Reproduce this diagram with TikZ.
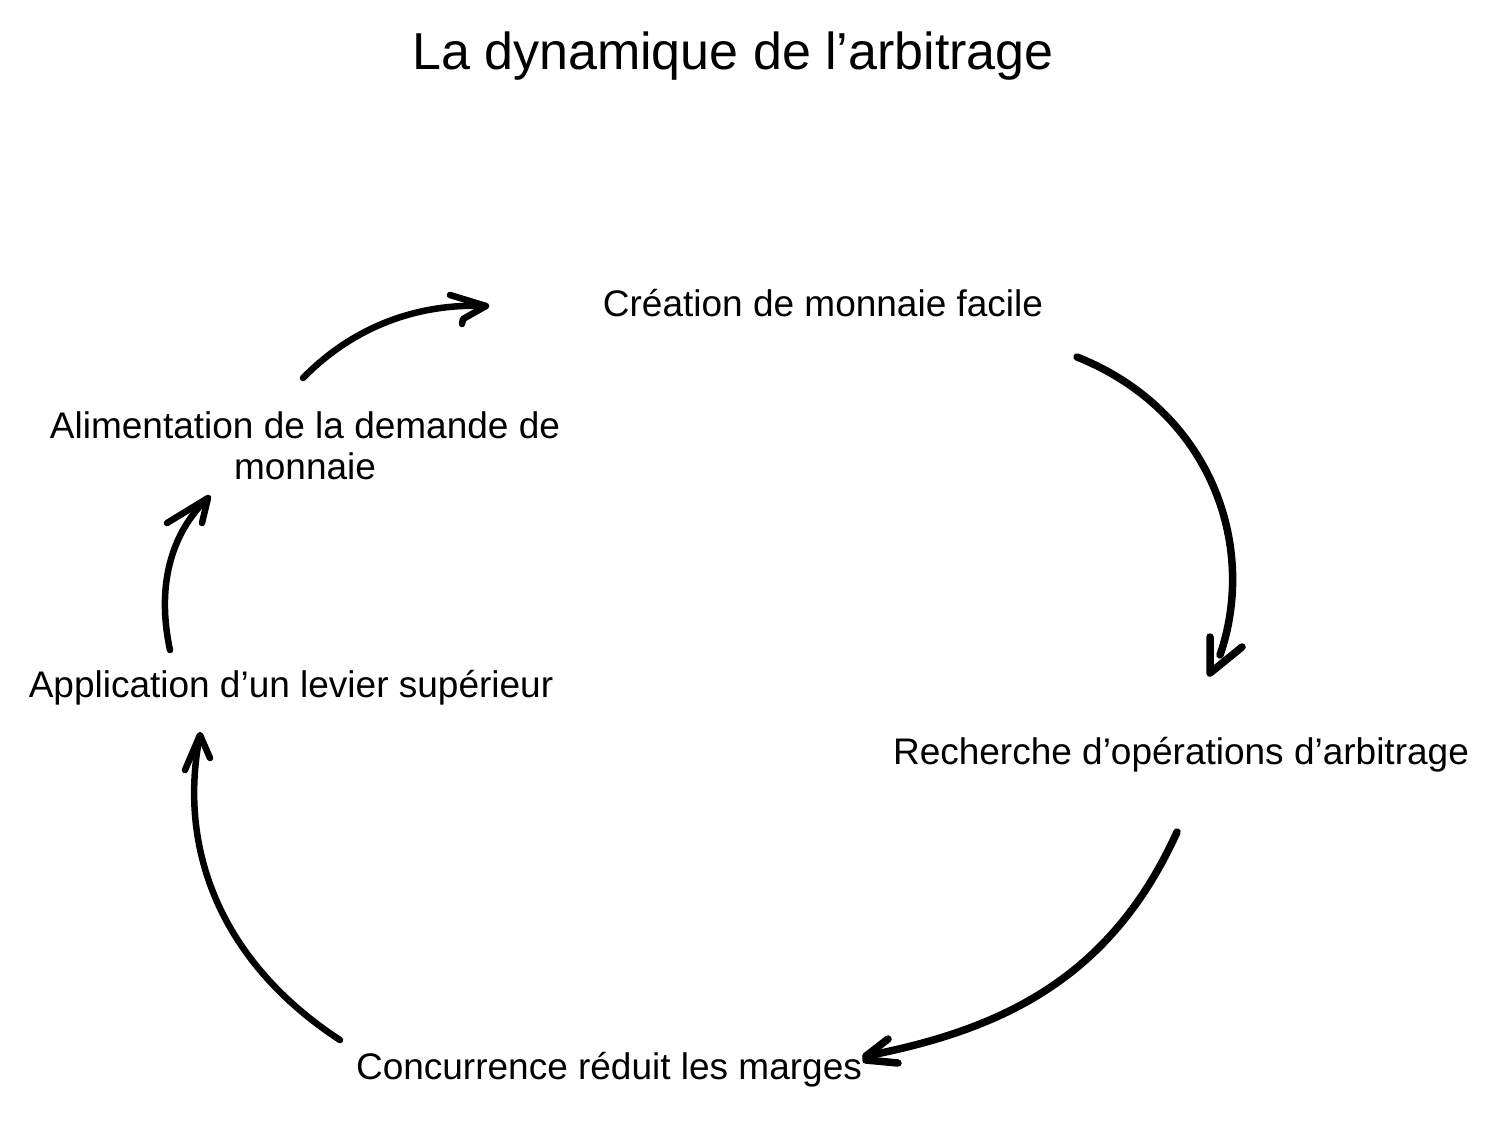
\documentclass[tikz,border=0pt]{standalone}
\usepackage{fontspec}
\setmainfont{Liberation Sans}
\begin{document}
\begin{tikzpicture}[x=1pt,y=-1pt,
  lbl/.style={inner sep=0pt, font=\fontsize{37}{41}\selectfont, align=center},
  ttl/.style={inner sep=0pt, font=\fontsize{52}{60}\selectfont},
  pen/.style={line width=6.5pt, line cap=round, line join=round, black},
  thickpen/.style={pen, line width=7.5pt}]
\useasboundingbox[fill=white] (0,0) rectangle (1487,1128);
\node[ttl] (title) at (733,56) {La dynamique de l’arbitrage};
\node[lbl] (creation) at (823,303) {Création de monnaie facile};
\node[lbl] (recherche) at (1181,755) {Recherche d’opérations d’arbitrage};
\node[lbl] (concurrence) at (609,1070) {Concurrence réduit les marges};
\node[lbl] (application) at (291,688) {Application d’un levier supérieur};
\node[lbl] (alimentation) at (305,446) {Alimentation de la demande de\\monnaie};
% arrow ends
\coordinate (a1s) at (303,378); \coordinate (a1e) at (486,306);
\coordinate (a2s) at (1077,357); \coordinate (a2e) at (1220,655);
\coordinate (a3s) at (1177,832); \coordinate (a3e) at (866,1056);
\coordinate (a4s) at (340,1040); \coordinate (a4e) at (199,740);
\coordinate (a5s) at (170,650); \coordinate (a5e) at (206,500);
% arrow 1
\draw[pen] (a1s) .. controls (355,325) and (420,303) .. (a1e);
\draw[pen] (450,295) -- (a1e) -- (463,319) -- (462,324);
% arrow 2
\draw[thickpen] (a2s) .. controls (1210,410) and (1258,545) .. (a2e);
\draw[thickpen] (1210,637) -- (1210,673) -- (1242,647);
% arrow 3
\draw[thickpen] (a3s) .. controls (1110,980) and (1000,1030) .. (a3e);
\draw[thickpen] (888,1039) -- (866,1056) -- (866,1060) -- (898,1063);
% arrow 4
\draw[pen] (a4s) .. controls (225,965) and (178,855) .. (a4e);
\draw[pen] (185,770) -- (200,735) -- (210,758);
% arrow 5
\draw[pen] (a5s) .. controls (155,580) and (175,530) .. (a5e);
\draw[pen] (167,523) -- (208,498) -- (202,523);
\end{tikzpicture}
\end{document}
